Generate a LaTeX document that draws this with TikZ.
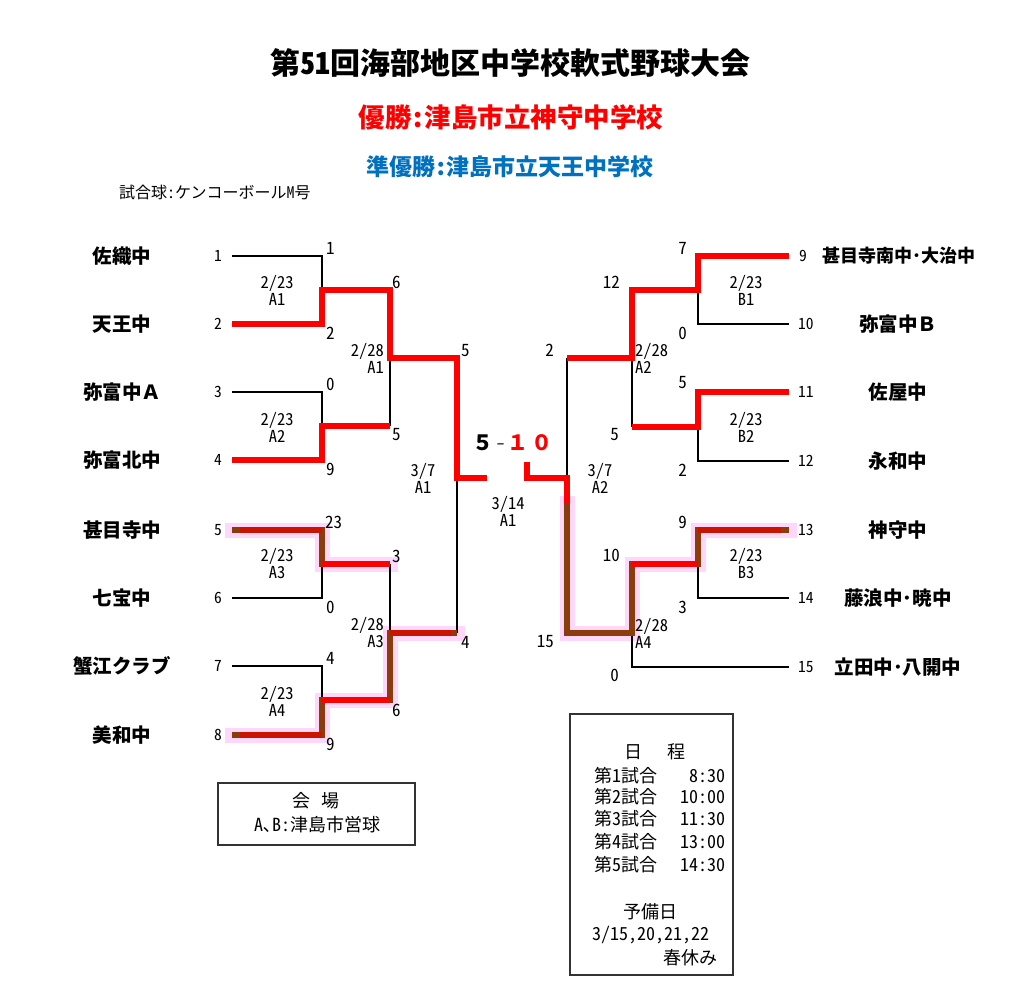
\documentclass[tikz,border=0pt]{standalone}
\usepackage{fontspec}
\usetikzlibrary{calc}
\setmainfont{Noto Sans CJK JP}
\newfontfamily\hwfont{Noto Sans CJK JP}[RawFeature=+hwid]
\newcommand{\hw}[1]{{\hwfont #1}}
\definecolor{wred}{RGB}{255,0,0}
\definecolor{brn}{RGB}{140,60,10}
\definecolor{dred}{RGB}{200,20,0}
\definecolor{halo}{RGB}{255,215,250}
\definecolor{jblue}{RGB}{0,112,192}
\tikzset{
  thinln/.style={line width=1.3pt, black},
  win/.style={line width=6pt, wred, line join=miter},
  hal/.style={line width=15pt, halo, line join=miter, line cap=rect},
  brl/.style={line width=6pt, brn, line join=miter},
  drl/.style={line width=6pt, dred},
  team/.style={inner sep=0pt, font=\fontsize{19.5}{21}\selectfont\bfseries},
  seed/.style={inner sep=0pt, font=\fontsize{15.5}{16}\selectfont\hwfont},
  sc/.style={inner sep=0pt, font=\fontsize{17}{18}\selectfont\hwfont},
  dt/.style={inner sep=0pt, align=center, font=\fontsize{16.5}{17}\selectfont\hwfont},
  boxtxt/.style={inner sep=0pt, font=\fontsize{18}{21}\selectfont},
  fs/.style={inner sep=0pt, font=\fontsize{21}{24}\selectfont\bfseries},
}
\begin{document}
\begin{tikzpicture}[x=1pt,y=-1pt]
\useasboundingbox (0,0) rectangle (1024,1007);
\fill[white] (0,0) rectangle (1024,1007);

% titles
\node[inner sep=0pt, font=\fontsize{30}{32}\selectfont\bfseries] (title) at (510,63) {第\hw{51}回海部地区中学校軟式野球大会};
\node[inner sep=0pt, text=wred, font=\fontsize{26.5}{28}\selectfont\bfseries] (champ) at (511,117) {優勝\hw{:}津島市立神守中学校};
\node[inner sep=0pt, text=jblue, font=\fontsize{23}{25}\selectfont\bfseries] (runner) at (510,167) {準優勝\hw{:}津島市立天王中学校};
\node[inner sep=0pt, anchor=west, font=\fontsize{16}{17}\selectfont] (ball) at (119,192) {試合球\hw{:}ケンコーボール\hw{M}号};

% coordinates (left)
\coordinate (p1) at (232,256); \coordinate (q1) at (322,256);
\coordinate (p2) at (232,324); \coordinate (q2) at (322,324);
\coordinate (p3) at (232,392); \coordinate (q3) at (322,392);
\coordinate (p4) at (232,460); \coordinate (q4) at (322,460);
\coordinate (p5) at (232,530); \coordinate (q5) at (322,530);
\coordinate (p6) at (232,598); \coordinate (q6) at (322,598);
\coordinate (p7) at (232,666); \coordinate (q7) at (322,666);
\coordinate (p8) at (232,735); \coordinate (q8) at (322,735);
\coordinate (m1) at (322,290); \coordinate (n1) at (390,290);
\coordinate (m2) at (322,426); \coordinate (n2) at (390,426);
\coordinate (m3) at (322,564); \coordinate (n3) at (390,564);
\coordinate (m4) at (322,700); \coordinate (n4) at (390,700);
\coordinate (r1) at (390,358); \coordinate (u1) at (457,358);
\coordinate (r2) at (390,633); \coordinate (u2) at (457,633);
\coordinate (sL) at (457,478); \coordinate (fL) at (487,478);
% coordinates (right)
\coordinate (p9) at (789,256);  \coordinate (q9) at (698,256);
\coordinate (p10) at (789,324); \coordinate (q10) at (698,324);
\coordinate (p11) at (789,392); \coordinate (q11) at (698,392);
\coordinate (p12) at (789,461); \coordinate (q12) at (698,461);
\coordinate (p13) at (789,530); \coordinate (q13) at (698,530);
\coordinate (p14) at (789,598); \coordinate (q14) at (698,598);
\coordinate (p15) at (789,667); \coordinate (q15) at (632,667);
\coordinate (m5) at (698,290); \coordinate (n5) at (632,290);
\coordinate (m6) at (698,427); \coordinate (n6) at (632,427);
\coordinate (m7) at (698,564); \coordinate (n7) at (632,564);
\coordinate (r3) at (632,358); \coordinate (u3) at (567,358);
\coordinate (r4) at (632,633); \coordinate (u4) at (567,633);
\coordinate (sR) at (567,478); \coordinate (fR) at (527,478);
\coordinate (gR) at (527,462); \coordinate (bR) at (567,503);

% halos
\draw[hal] (p5)--(q5)--(m3)--(n3);
\draw[hal] (p8)--(q8)--(m4)--(n4)--(r2)--(u2);
\draw[hal] (bR)--(u4)--(r4)--(n7)--(m7)--(q13)--(p13);

% losers (thin black)
\draw[thinln] (p1)--(q1)--(m1);
\draw[thinln] (p3)--(q3)--(m2);
\draw[thinln] (n2)--(r1);
\draw[thinln] (p6)--(q6)--(m3);
\draw[thinln] (p7)--(q7)--(m4);
\draw[thinln] (n3)--(r2);
\draw[thinln] (sL)--(u2);
\draw[thinln] (p10)--(q10)--(m5);
\draw[thinln] (p12)--(q12)--(m6);
\draw[thinln] (r3)--(n6);
\draw[thinln] (u3)--(sR);
\draw[thinln] (p14)--(q14)--(m7);
\draw[thinln] (p15)--(q15)--(r4);

% winners (red)
\draw[win] (p2)--(q2)--(m1)--(n1)--(r1)--(u1)--(sL)--(fL);
\draw[win] (p4)--(q4)--(m2)--(n2);
\draw[win] (p9)--(q9)--(m5)--(n5)--(r3)--(u3);
\draw[win] (p11)--(q11)--(m6)--(n6);
\draw[win] (gR)--(fR)--(sR)--(bR);

% winners (brown with halo)
\draw[brl] (p5)--(q5)--(m3)--(n3);
\draw[brl] (p8)--(q8)--(m4)--(n4)--(r2)--(u2);
\draw[brl] (bR)--(u4)--(r4)--(n7)--(m7)--(q13)--(p13);
\draw[drl] ($(p5)+(8,0)$)--(q5);
\draw[win] (m3)--(n3);
\draw[drl] ($(p8)+(8,0)$)--(q8);
\draw[win] (m4)--(n4);
\draw[drl] (r2)--($(u2)-(6,0)$);
\draw[win] (n7)--(m7);
\draw[drl] (q13)--($(p13)-(8,0)$);

% team names
\node[team] (t1) at (122,256) {佐織中};
\node[team] (t2) at (122,324) {天王中};
\node[team] (t3) at (122,392) {弥富中Ａ};
\node[team] (t4) at (122,460) {弥富北中};
\node[team] (t5) at (122,530) {甚目寺中};
\node[team] (t6) at (122,598) {七宝中};
\node[team] (t7) at (122,666) {蟹江クラブ};
\node[team] (t8) at (122,735) {美和中};
\node[team, font=\fontsize{18}{20}\selectfont\bfseries] (t9) at (899,256) {甚目寺南中･大治中};
\node[team] (t10) at (898,324) {弥富中Ｂ};
\node[team] (t11) at (898,392) {佐屋中};
\node[team] (t12) at (898,461) {永和中};
\node[team] (t13) at (898,530) {神守中};
\node[team] (t14) at (898,598) {藤浪中･暁中};
\node[team] (t15) at (898,667) {立田中･八開中};

% seeds
\node[seed] (s1) at (218,256) {1};
\node[seed] (s2) at (218,324) {2};
\node[seed] (s3) at (218,392) {3};
\node[seed] (s4) at (218,460) {4};
\node[seed] (s5) at (218,530) {5};
\node[seed] (s6) at (218,598) {6};
\node[seed] (s7) at (218,666) {7};
\node[seed] (s8) at (218,735) {8};
\node[seed, anchor=west] (s9) at (799,256) {9};
\node[seed, anchor=west] (s10) at (798,324) {10};
\node[seed, anchor=west] (s11) at (798,392) {11};
\node[seed, anchor=west] (s12) at (798,461) {12};
\node[seed, anchor=west] (s13) at (798,530) {13};
\node[seed, anchor=west] (s14) at (798,598) {14};
\node[seed, anchor=west] (s15) at (798,667) {15};

% scores left
\node[sc, anchor=west] (a1) at (326,248) {1};
\node[sc, anchor=west] (a2) at (326,333) {2};
\node[sc, anchor=west] (a3) at (392,282) {6};
\node[sc, anchor=west] (a4) at (326,384) {0};
\node[sc, anchor=west] (a5) at (392,435) {5};
\node[sc, anchor=west] (a6) at (326,469) {9};
\node[sc, anchor=west] (a7) at (461,351) {5};
\node[sc, anchor=west] (a8) at (325,522) {23};
\node[sc, anchor=west] (a9) at (392,556) {3};
\node[sc, anchor=west] (a10) at (326,607) {0};
\node[sc, anchor=west] (a11) at (461,642) {4};
\node[sc, anchor=west] (a12) at (326,658) {4};
\node[sc, anchor=west] (a13) at (392,710) {6};
\node[sc, anchor=west] (a14) at (326,744) {9};
% scores right
\node[sc, anchor=east] (b1) at (687,248) {7};
\node[sc, anchor=east] (b2) at (620,282) {12};
\node[sc, anchor=east] (b3) at (687,333) {0};
\node[sc, anchor=east] (b4) at (554,350) {2};
\node[sc, anchor=east] (b5) at (687,383) {5};
\node[sc, anchor=east] (b6) at (619,435) {5};
\node[sc, anchor=east] (b7) at (687,470) {2};
\node[sc, anchor=east] (b8) at (687,522) {9};
\node[sc, anchor=east] (b9) at (620,555) {10};
\node[sc, anchor=east] (b10) at (687,607) {3};
\node[sc, anchor=east] (b11) at (554,642) {15};
\node[sc, anchor=east] (b12) at (619,675) {0};

% dates
\node[dt] (d1) at (277,290) {2/23\\A1};
\node[dt] (d2) at (277,427) {2/23\\A2};
\node[dt] (d3) at (277,564) {2/23\\A3};
\node[dt] (d4) at (277,701) {2/23\\A4};
\node[dt, align=right, anchor=east] (d5) at (384,358) {2/28\\A1};
\node[dt, align=right, anchor=east] (d6) at (384,633) {2/28\\A3};
\node[dt] (d7) at (423,478) {3/7\\A1};
\node[dt] (d8) at (508,511) {3/14\\A1};
\node[dt] (d9) at (600,478) {3/7\\A2};
\node[dt, align=left, anchor=west] (d10) at (635,358) {2/28\\A2};
\node[dt, align=left, anchor=west] (d11) at (635,633) {2/28\\A4};
\node[dt] (d12) at (746,290) {2/23\\B1};
\node[dt] (d13) at (746,427) {2/23\\B2};
\node[dt] (d14) at (746,564) {2/23\\B3};

% final score
\node[fs] (f1) at (483,443) {５};
\node[fs, anchor=base, text=black!70, font=\fontsize{22}{24}\selectfont\hwfont] (f2) at (501,450) {-};
\node[fs, text=wred] (f3) at (518,443) {１};
\node[fs, text=wred] (f4) at (542,443) {０};

% venue box
\draw[line width=1.3pt, black!80] (218,783) rectangle (415,845);
\node[boxtxt] (v1) at (316,801) {会\hspace{0.6em}場};
\node[boxtxt] (v2) at (317,825) {\hw{A}､\hw{B:}津島市営球};

% schedule box
\draw[line width=1.3pt, black!80] (570,714) rectangle (733,975);
\node[boxtxt] (h0) at (655,752) {日\hspace{1.4em}程};
\node[boxtxt, anchor=west] (h1) at (594,776) {第\hw{1}試合};
\node[boxtxt, anchor=west] (h2) at (594,797) {第\hw{2}試合};
\node[boxtxt, anchor=west] (h3) at (594,819) {第\hw{3}試合};
\node[boxtxt, anchor=west] (h4) at (594,842) {第\hw{4}試合};
\node[boxtxt, anchor=west] (h5) at (594,865) {第\hw{5}試合};
\node[boxtxt, anchor=east, font=\fontsize{18}{21}\selectfont\hwfont] (k1) at (726,776) {8:30};
\node[boxtxt, anchor=east, font=\fontsize{18}{21}\selectfont\hwfont] (k2) at (726,797) {10:00};
\node[boxtxt, anchor=east, font=\fontsize{18}{21}\selectfont\hwfont] (k3) at (726,819) {11:30};
\node[boxtxt, anchor=east, font=\fontsize{18}{21}\selectfont\hwfont] (k4) at (726,842) {13:00};
\node[boxtxt, anchor=east, font=\fontsize{18}{21}\selectfont\hwfont] (k5) at (726,865) {14:30};
\node[boxtxt] (y1) at (650,912) {予備日};
\node[boxtxt, anchor=west, font=\fontsize{18}{21}\selectfont\hwfont] (y2) at (592,935) {3/15,20,21,22};
\node[boxtxt, anchor=east] (y3) at (718,958) {春休み};
\end{tikzpicture}
\end{document}
